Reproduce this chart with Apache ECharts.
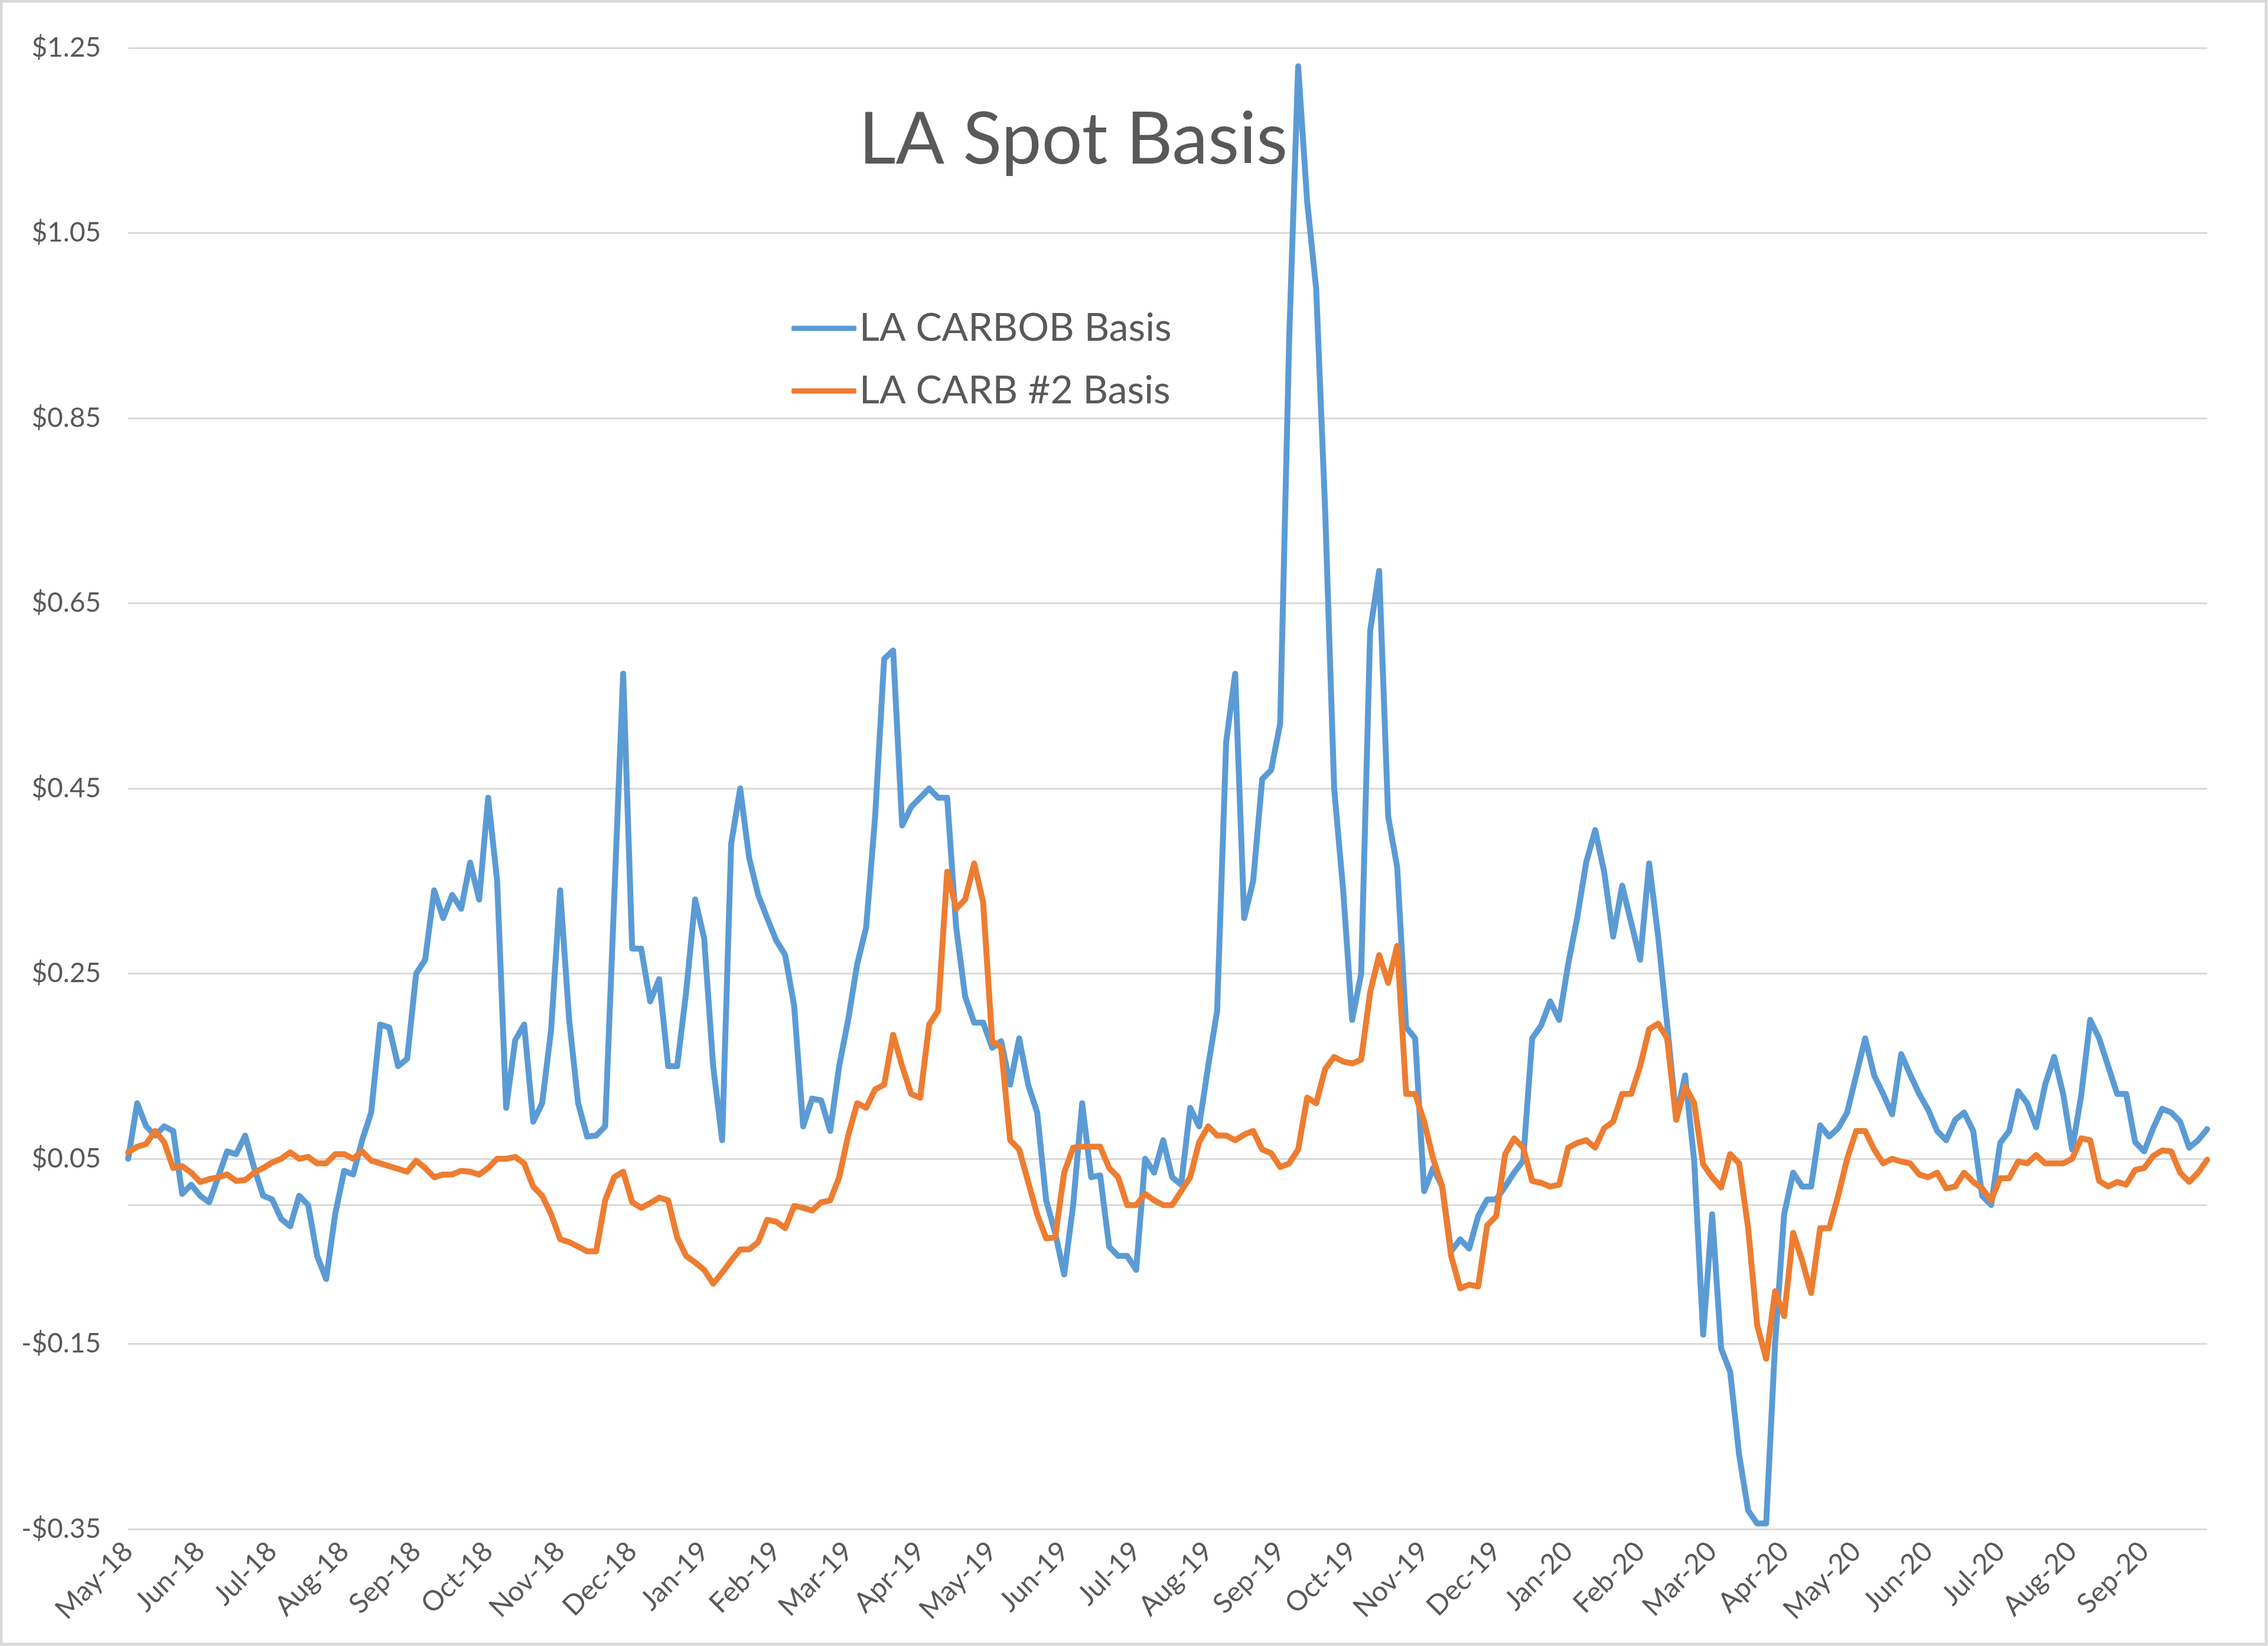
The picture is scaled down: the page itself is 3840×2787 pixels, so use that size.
<!DOCTYPE html>
<html>
<head>
<meta charset="utf-8">
<script src="https://cdn.jsdelivr.net/npm/echarts@6/dist/echarts.min.js"></script>
<style>
html,body{margin:0;padding:0;background:#ffffff;}
#chart{width:3840px;height:2787px;}
</style>
</head>
<body>
<div id="chart"></div>
<script>
// Month tick labels (one every PER_MONTH samples)
const months = ['May-18','Jun-18','Jul-18','Aug-18','Sep-18','Oct-18','Nov-18','Dec-18',
  'Jan-19','Feb-19','Mar-19','Apr-19','May-19','Jun-19','Jul-19','Aug-19','Sep-19','Oct-19','Nov-19','Dec-19',
  'Jan-20','Feb-20','Mar-20','Apr-20','May-20','Jun-20','Jul-20','Aug-20','Sep-20'];
const PER_MONTH = 8;

// LA CARBOB Basis ($/gal), 8 readings per month
const carbob = [
  0.05, 0.11, 0.085, 0.075, 0.085, 0.08, 0.012, 0.022,      // May-18
  0.01, 0.003, 0.03, 0.058, 0.055, 0.075, 0.04, 0.01,       // Jun-18
  0.006, -0.015, -0.023, 0.01, 0.0, -0.055, -0.08, -0.01,   // Jul-18
  0.037, 0.033, 0.07, 0.1, 0.195, 0.192, 0.15, 0.158,       // Aug-18
  0.25, 0.265, 0.34, 0.31, 0.335, 0.32, 0.37, 0.33,         // Sep-18
  0.44, 0.35, 0.105, 0.178, 0.195, 0.09, 0.11, 0.19,        // Oct-18
  0.34, 0.2, 0.11, 0.074, 0.075, 0.085, 0.33, 0.574,        // Nov-18
  0.277, 0.277, 0.22, 0.244, 0.15, 0.15, 0.23, 0.33,        // Dec-18
  0.288, 0.15, 0.07, 0.39, 0.45, 0.375, 0.335, 0.31,        // Jan-19
  0.286, 0.27, 0.215, 0.085, 0.115, 0.113, 0.08, 0.15,      // Feb-19
  0.2, 0.26, 0.3, 0.42, 0.59, 0.599, 0.41, 0.43,            // Mar-19
  0.44, 0.45, 0.44, 0.44, 0.3, 0.225, 0.197, 0.197,         // Apr-19
  0.17, 0.177, 0.13, 0.18, 0.13, 0.1, 0.005, -0.03,         // May-19
  -0.075, 0.0, 0.11, 0.03, 0.032, -0.045, -0.055, -0.055,   // Jun-19
  -0.07, 0.05, 0.035, 0.07, 0.03, 0.022, 0.105, 0.085,      // Jul-19
  0.15, 0.21, 0.5, 0.574, 0.31, 0.35, 0.46, 0.47,           // Aug-19
  0.52, 0.935, 1.23, 1.084, 0.99, 0.75, 0.45, 0.34,         // Sep-19
  0.2, 0.25, 0.62, 0.685, 0.42, 0.365, 0.192, 0.18,         // Oct-19
  0.015, 0.04, 0.02, -0.05, -0.037, -0.047, -0.012, 0.006,  // Nov-19
  0.006, 0.02, 0.035, 0.048, 0.18, 0.194, 0.22, 0.2,        // Dec-19
  0.26, 0.31, 0.37, 0.405, 0.36, 0.29, 0.345, 0.305,        // Jan-20
  0.265, 0.369, 0.29, 0.195, 0.095, 0.14, 0.048, -0.14,     // Feb-20
  -0.01, -0.155, -0.18, -0.27, -0.33, -0.344, -0.344, -0.148, // Mar-20
  -0.01, 0.035, 0.02, 0.02, 0.086, 0.074, 0.083, 0.1,       // Apr-20
  0.14, 0.18, 0.14, 0.12, 0.098, 0.163, 0.141, 0.12,        // May-20
  0.103, 0.08, 0.07, 0.092, 0.1, 0.08, 0.01, 0.0,           // Jun-20
  0.067, 0.08, 0.123, 0.11, 0.084, 0.13, 0.16, 0.12,        // Jul-20
  0.06, 0.118, 0.2, 0.18, 0.15, 0.12, 0.12, 0.068,          // Aug-20
  0.058, 0.083, 0.104, 0.1, 0.09, 0.062, 0.07, 0.082        // Sep-20
];

// LA CARB #2 Basis ($/gal), 8 readings per month
const carb2 = [
  0.057, 0.063, 0.066, 0.08, 0.068, 0.04, 0.042, 0.035,     // May-18
  0.025, 0.028, 0.03, 0.033, 0.026, 0.027, 0.035, 0.04,     // Jun-18
  0.046, 0.05, 0.057, 0.05, 0.052, 0.045, 0.045, 0.055,     // Jul-18
  0.055, 0.05, 0.058, 0.048, 0.045, 0.042, 0.039, 0.036,    // Aug-18
  0.048, 0.04, 0.03, 0.033, 0.033, 0.037, 0.036, 0.033,     // Sep-18
  0.04, 0.05, 0.05, 0.052, 0.045, 0.02, 0.01, -0.01,        // Oct-18
  -0.037, -0.04, -0.045, -0.05, -0.05, 0.005, 0.03, 0.036,  // Nov-18
  0.003, -0.003, 0.002, 0.008, 0.005, -0.035, -0.055, -0.062, // Dec-18
  -0.07, -0.085, -0.073, -0.06, -0.048, -0.048, -0.04, -0.016, // Jan-19
  -0.018, -0.025, -0.001, -0.003, -0.006, 0.003, 0.005, 0.03, // Feb-19
  0.075, 0.11, 0.105, 0.125, 0.13, 0.184, 0.15, 0.12,       // Mar-19
  0.116, 0.195, 0.21, 0.36, 0.32, 0.33, 0.369, 0.327,       // Apr-19
  0.177, 0.17, 0.07, 0.06, 0.025, -0.01, -0.036, -0.035,    // May-19
  0.035, 0.062, 0.063, 0.063, 0.063, 0.04, 0.03, 0.0,       // Jun-19
  0.0, 0.012, 0.005, 0.0, 0.0, 0.015, 0.03, 0.068,          // Jul-19
  0.085, 0.075, 0.075, 0.07, 0.076, 0.08, 0.06, 0.056,      // Aug-19
  0.041, 0.045, 0.06, 0.116, 0.11, 0.147, 0.16, 0.155,      // Sep-19
  0.153, 0.157, 0.23, 0.27, 0.24, 0.28, 0.12, 0.12,         // Oct-19
  0.09, 0.05, 0.02, -0.055, -0.09, -0.086, -0.088, -0.022,  // Nov-19
  -0.012, 0.055, 0.072, 0.062, 0.026, 0.024, 0.02, 0.022,   // Dec-19
  0.062, 0.067, 0.07, 0.062, 0.083, 0.09, 0.12, 0.12,       // Jan-20
  0.15, 0.19, 0.196, 0.18, 0.092, 0.128, 0.11, 0.044,       // Feb-20
  0.03, 0.019, 0.055, 0.045, -0.025, -0.13, -0.166, -0.093, // Mar-20
  -0.12, -0.03, -0.06, -0.095, -0.025, -0.025, 0.01, 0.05,  // Apr-20
  0.08, 0.08, 0.06, 0.045, 0.05, 0.047, 0.045, 0.033,       // May-20
  0.03, 0.035, 0.018, 0.02, 0.035, 0.025, 0.018, 0.005,     // Jun-20
  0.029, 0.029, 0.047, 0.045, 0.054, 0.045, 0.045, 0.045,   // Jul-20
  0.05, 0.072, 0.07, 0.026, 0.02, 0.025, 0.022, 0.038,      // Aug-20
  0.04, 0.053, 0.059, 0.058, 0.035, 0.025, 0.035, 0.049     // Sep-20
];

const seriesNames = ['LA CARBOB Basis', 'LA CARB #2 Basis'];
const categories = carbob.map(function (_, i) { return i; });

const FONT = 'Lato, "Open Sans", "Liberation Sans", sans-serif';
const TXT = '#595959';
const BLUE = '#5B9BD5';
const ORANGE = '#ED7D31';

const chart = echarts.init(document.getElementById('chart'), null, { renderer: 'canvas' });
chart.setOption({
  animation: false,
  backgroundColor: '#ffffff',
  title: {
    text: 'LA Spot Basis',
    left: 1812,
    textAlign: 'center',
    top: 172,
    textStyle: { fontFamily: FONT, fontSize: 122, fontWeight: 'normal', color: TXT }
  },
  legend: {
    orient: 'vertical',
    left: 1335,
    top: 518,
    itemWidth: 110,
    itemHeight: 9,
    itemGap: 40,
    icon: 'roundRect',
    textStyle: { fontFamily: FONT, fontSize: 66, color: TXT },
    data: seriesNames
  },
  graphic: [{
    type: 'rect', silent: true, z: -10,
    shape: { x: 2, y: 2, width: 3835, height: 2782 },
    style: { fill: null, stroke: '#D9D9D9', lineWidth: 5 }
  }],
  grid: { left: 217, right: 103, top: 81, bottom: 198, containLabel: false },
  xAxis: {
    type: 'category',
    data: categories,
    boundaryGap: false,
    axisLine: { show: false },
    axisTick: { show: false },
    splitLine: { show: false },
    axisLabel: {
      interval: function (idx) { return idx % PER_MONTH === 0; },
      formatter: function (v, idx) { return months[Math.floor(idx / PER_MONTH)] || ''; },
      rotate: 45,
      margin: 30,
      fontFamily: FONT,
      fontSize: 47,
      color: TXT
    }
  },
  yAxis: {
    type: 'value',
    min: -0.35,
    max: 1.25,
    interval: 0.2,
    axisLine: { show: false },
    axisTick: { show: false },
    splitLine: { show: true, lineStyle: { color: '#D9D9D9', width: 3 } },
    axisLabel: {
      formatter: function (v) { return (v < 0 ? '-$' : '$') + Math.abs(v).toFixed(2); },
      margin: 46,
      fontFamily: FONT,
      fontSize: 46,
      color: TXT
    }
  },
  series: [
    {
      name: seriesNames[0],
      type: 'line',
      data: carbob,
      symbol: 'none',
      showSymbol: false,
      smooth: false,
      color: BLUE,
      lineStyle: { color: BLUE, width: 10, join: 'round', cap: 'round' },
      itemStyle: { color: BLUE },
      z: 3,
      markLine: {
        silent: true,
        symbol: 'none',
        z: 1,
        label: { show: false },
        lineStyle: { color: '#D9D9D9', width: 3, type: 'solid' },
        emphasis: { disabled: true },
        data: [{ yAxis: 0 }]
      }
    },
    {
      name: seriesNames[1],
      type: 'line',
      data: carb2,
      symbol: 'none',
      showSymbol: false,
      smooth: false,
      color: ORANGE,
      lineStyle: { color: ORANGE, width: 10, join: 'round', cap: 'round' },
      itemStyle: { color: ORANGE },
      z: 4
    }
  ]
});
</script>
</body>
</html>
